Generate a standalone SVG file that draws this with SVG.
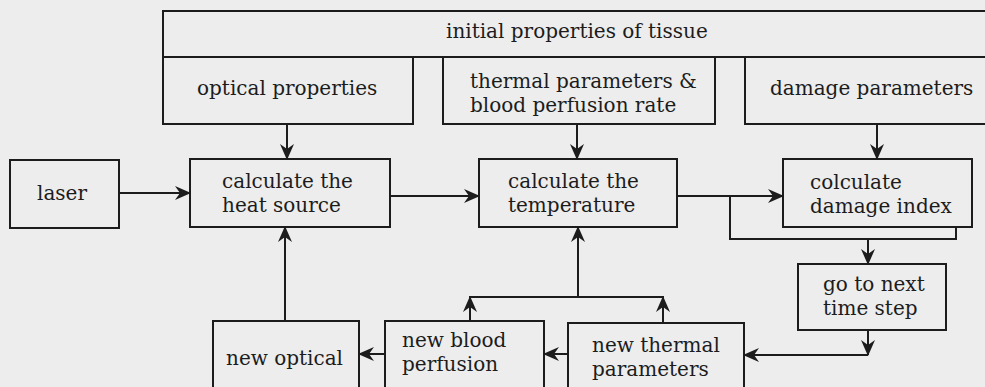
<svg xmlns="http://www.w3.org/2000/svg" width="985" height="387" viewBox="0 0 985 387">
<defs>
<style>
.box{fill:none;stroke:#1c1c1c;stroke-width:2}
.t{font-family:"DejaVu Serif","Liberation Serif",serif;font-size:20px;fill:#1c1c1c}
.c{fill:none;stroke:#1c1c1c;stroke-width:2}
</style>
<marker id="ah" markerUnits="userSpaceOnUse" markerWidth="16" markerHeight="14" refX="15" refY="7" orient="auto">
<path d="M0,0 L16,7 L0,14 L5,7 z" fill="#1c1c1c"/>
</marker>
</defs>
<rect width="985" height="387" fill="#ededed"/>
<g id="initial-properties">
<rect class="box" x="163" y="11" width="830" height="46"/>
<text class="t" x="446" y="38">initial properties of tissue</text>
</g>
<g id="optical-properties">
<rect class="box" x="163" y="57" width="250" height="67"/>
<text class="t" x="197" y="95">optical properties</text>
</g>
<g id="thermal-parameters">
<rect class="box" x="443" y="57" width="272" height="67"/>
<text class="t" x="470" y="88">thermal parameters &amp;</text>
<text class="t" x="470" y="112">blood perfusion rate</text>
</g>
<g id="damage-parameters">
<rect class="box" x="745" y="57" width="250" height="67"/>
<text class="t" x="770" y="95">damage parameters</text>
</g>
<g id="laser">
<rect class="box" x="10" y="160" width="109" height="68"/>
<text class="t" x="37" y="200">laser</text>
</g>
<g id="heat-source">
<rect class="box" x="190" y="159" width="200" height="68"/>
<text class="t" x="222" y="188">calculate the</text>
<text class="t" x="222" y="212">heat source</text>
</g>
<g id="temperature">
<rect class="box" x="479" y="159" width="198" height="68"/>
<text class="t" x="508" y="188">calculate the</text>
<text class="t" x="508" y="212">temperature</text>
</g>
<g id="damage-index">
<rect class="box" x="783" y="159" width="189" height="68"/>
<text class="t" x="810" y="189">colculate</text>
<text class="t" x="810" y="213">damage index</text>
</g>
<g id="next-time-step">
<rect class="box" x="798" y="264" width="148" height="66"/>
<text class="t" x="823" y="291">go to next</text>
<text class="t" x="823" y="315">time step</text>
</g>
<g id="new-thermal">
<rect class="box" x="568" y="323" width="176" height="80"/>
<text class="t" x="592" y="352">new thermal</text>
<text class="t" x="592" y="376">parameters</text>
</g>
<g id="new-blood">
<rect class="box" x="385" y="321" width="159" height="80"/>
<text class="t" x="402" y="347">new blood</text>
<text class="t" x="402" y="371">perfusion</text>
</g>
<g id="new-optical">
<rect class="box" x="213" y="321" width="146" height="80"/>
<text class="t" x="226" y="365">new optical</text>
</g>
<g id="connectors">
<line class="c" x1="287" y1="124" x2="287" y2="159" marker-end="url(#ah)"/>
<line class="c" x1="577" y1="124" x2="577" y2="159" marker-end="url(#ah)"/>
<line class="c" x1="877" y1="124" x2="877" y2="159" marker-end="url(#ah)"/>
<line class="c" x1="119" y1="193" x2="190" y2="193" marker-end="url(#ah)"/>
<line class="c" x1="390" y1="196" x2="479" y2="196" marker-end="url(#ah)"/>
<line class="c" x1="677" y1="196" x2="783" y2="196" marker-end="url(#ah)"/>
<polyline class="c" points="956,227 956,239 730,239 730,196"/>
<line class="c" x1="868" y1="239" x2="868" y2="264" marker-end="url(#ah)"/>
<line class="c" x1="868" y1="330" x2="868" y2="355" marker-end="url(#ah)"/>
<line class="c" x1="868" y1="355" x2="744" y2="355" marker-end="url(#ah)"/>
<line class="c" x1="568" y1="354" x2="544" y2="354" marker-end="url(#ah)"/>
<line class="c" x1="385" y1="354" x2="359" y2="354" marker-end="url(#ah)"/>
<line class="c" x1="285" y1="321" x2="285" y2="227" marker-end="url(#ah)"/>
<line class="c" x1="470" y1="321" x2="470" y2="297" marker-end="url(#ah)"/>
<line class="c" x1="663" y1="323" x2="663" y2="297" marker-end="url(#ah)"/>
<line class="c" x1="469" y1="297" x2="664" y2="297"/>
<line class="c" x1="578" y1="297" x2="578" y2="227" marker-end="url(#ah)"/>
</g>
</svg>
